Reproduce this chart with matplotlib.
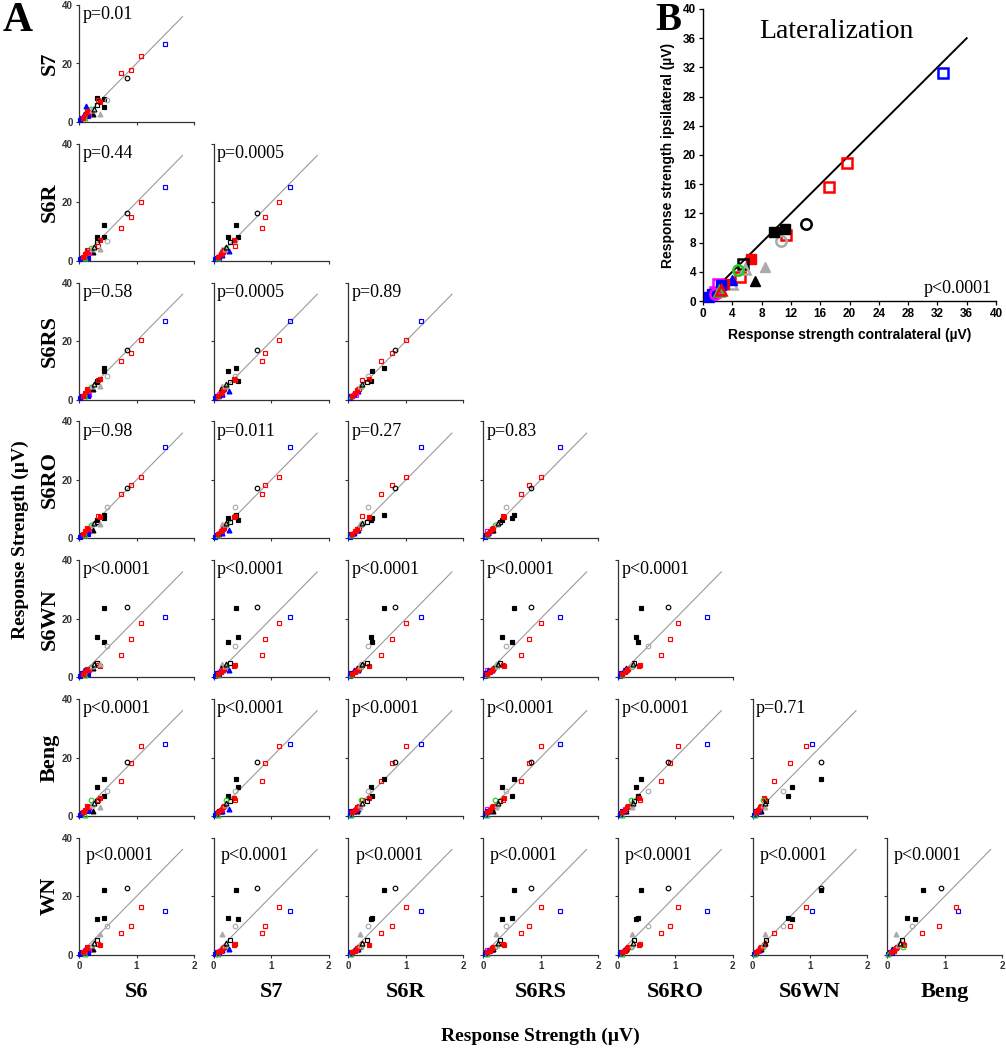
import matplotlib
matplotlib.use("Agg")
import matplotlib.pyplot as plt
import numpy as np

SERIF = ["Liberation Serif", "DejaVu Serif"]
SANS = ["Liberation Sans", "DejaVu Sans"]

# ---------------- Panel A data (response strength, uV) ----------------
stimuli = ["S6", "S7", "S6R", "S6RS", "S6RO", "S6WN", "Beng", "WN"]
# per-unit marker styles
unit_marker = ["s", "s", "s", "s", "o", "s", "s", "s", "o", "s", "s", "s", "o", "^", "^", "^",
               "s", "o", "s", "s", "s", "^", "s", "s", "s", "^", "^", "^", "s"]
unit_color = ["blue", "red", "red", "red", "black", "black", "black", "black", "#aaaaaa", "red", "black", "red", "#22cc22", "blue", "#aaaaaa", "black",
              "#ff00ff", "#ff00ff", "blue", "blue", "blue", "blue", "red", "red", "red", "#aaaaaa", "#22cc22", "black", "red"]
unit_filled = [False, False, False, False, False, True, True, True, False, True, False, False, False, True, True, True,
               False, False, True, True, True, True, True, True, False, False, False, False, True]
# values for each stimulus (one entry per unit)
S6 =   [29.8, 21.6, 18.0, 14.6, 16.8, 8.6, 8.6, 6.2, 9.8, 7.4, 6.2, 6.6, 4.2, 2.4, 7.2, 5.0,
        3.6, 2.2, 0.4, 1.0, 3.2, 1.6, 3.0, 2.0, 2.8, 4.6, 2.0, 5.2, 1.4]
S7 =   [26.7, 22.6, 17.7, 16.8, 15.1, 7.9, 5.1, 8.3, 7.4, 6.9, 5.7, 7.4, 4.3, 5.4, 2.9, 2.6,
        2.9, 1.9, 0.6, 1.2, 2.0, 2.8, 3.3, 2.4, 3.6, 4.0, 1.4, 4.3, 1.5]
S6R =  [25.4, 20.2, 15.1, 11.3, 16.3, 12.3, 8.1, 8.0, 6.8, 7.2, 6.4, 4.9, 4.4, 3.5, 4.0, 3.0,
        2.6, 1.8, 0.5, 1.0, 0.9, 2.0, 3.0, 2.2, 3.7, 4.2, 1.0, 4.6, 1.4]
S6RS = [26.9, 20.3, 16.0, 13.1, 16.8, 10.9, 9.9, 6.5, 8.0, 7.1, 5.9, 6.8, 4.3, 3.0, 4.5, 3.5,
        1.5, 2.0, 0.5, 1.1, 1.2, 1.8, 3.2, 2.3, 3.5, 4.8, 1.2, 5.2, 1.3]
S6RO = [31.1, 21.0, 18.1, 15.1, 17.4, 8.0, 6.9, 6.3, 10.6, 7.4, 5.6, 7.8, 4.6, 3.0, 5.0, 3.0,
        2.4, 2.0, 0.6, 1.2, 1.5, 2.0, 3.1, 2.4, 3.6, 5.0, 1.3, 5.4, 1.5]
S6WN = [20.6, 18.5, 12.9, 7.5, 24.0, 23.7, 12.2, 13.9, 10.5, 3.9, 4.8, 4.2, 3.5, 2.5, 4.5, 3.0,
        2.4, 1.8, 0.5, 1.3, 1.2, 2.4, 2.6, 1.9, 2.9, 3.8, 0.8, 4.4, 1.1]
Beng = [24.6, 24.1, 18.0, 12.1, 18.6, 12.5, 6.8, 9.8, 8.7, 6.0, 5.0, 5.5, 5.5, 2.5, 3.0, 1.8,
        2.4, 1.8, 0.4, 0.9, 1.6, 1.8, 3.0, 2.2, 3.4, 3.7, 0.2, 4.4, 1.2]
WN =   [15.1, 16.3, 9.8, 7.4, 22.9, 22.1, 12.7, 12.2, 9.9, 3.4, 5.0, 3.8, 2.6, 2.0, 7.2, 2.0,
        1.6, 1.2, 0.3, 0.8, 0.6, 1.5, 2.2, 1.4, 2.6, 3.4, 0.3, 4.2, 0.9]
stim_values = {"S6": S6, "S7": S7, "S6R": S6R, "S6RS": S6RS, "S6RO": S6RO,
               "S6WN": S6WN, "Beng": Beng, "WN": WN}

row_stimuli = ["S7", "S6R", "S6RS", "S6RO", "S6WN", "Beng", "WN"]
col_stimuli = ["S6", "S7", "S6R", "S6RS", "S6RO", "S6WN", "Beng"]
p_values = [
    ["p=0.01"],
    ["p=0.44", "p=0.0005"],
    ["p=0.58", "p=0.0005", "p=0.89"],
    ["p=0.98", "p=0.011", "p=0.27", "p=0.83"],
    ["p<0.0001"] * 5,
    ["p<0.0001"] * 5 + ["p=0.71"],
    ["p<0.0001"] * 7,
]
X_SCALE = 20.0  # x axis of panel A shown on 0-2 scale

# ---------------- Panel B data ----------------
b_contra = [32.8, 19.6, 17.2, 11.3, 5.1, 14.0, 10.6, 9.7, 11.2, 6.5, 8.4, 7.1, 5.4, 5.8, 3.9,
            4.8, 3.9, 2.9, 2.0, 1.7, 2.4, 0.8, 1.2, 1.6, 2.2, 2.4]
b_ipsi = [31.2, 18.9, 15.6, 9.0, 3.3, 10.6, 8.2, 9.5, 9.9, 5.7, 4.6, 2.7, 5.1, 4.4, 2.3,
          4.2, 2.9, 2.3, 2.3, 1.2, 2.2, 0.6, 1.0, 1.0, 1.4, 1.5]
b_marker = ["s", "s", "s", "s", "s", "o", "o", "s", "s", "s", "^", "^", "s", "^", "^",
            "o", "^", "s", "s", "s", "s", "s", "s", "o", "^", "^"]
b_color = ["blue", "red", "red", "red", "red", "black", "#aaaaaa", "black", "black", "red", "#aaaaaa", "black",
           "black", "#aaaaaa", "#aaaaaa", "#22cc22", "blue", "red", "#ff00ff", "#ff00ff", "blue", "blue", "blue",
           "#ff00ff", "#22cc22", "red"]
b_filled = [False, False, False, False, False, False, False, True, True, True, True, True,
            False, False, False, False, True, True, False, False, True, True, True, False, False, False]
b_ticks = [0, 4, 8, 12, 16, 20, 24, 28, 32, 36, 40]

# ---------------- Figure ----------------
W, H = 1006, 1050
fig = plt.figure(figsize=(W / 100, H / 100), dpi=100)


def rect(left, top, w, h):
    return [left / W, 1 - (top + h) / H, w / W, h / H]


col_left0, col_step, pw = 79, 134.7, 115
row_top0, row_step, ph = 5, 138.8, 117

for r, ystim in enumerate(row_stimuli):
    for c in range(r + 1):
        xstim = col_stimuli[c]
        ax = fig.add_axes(rect(col_left0 + c * col_step, row_top0 + r * row_step, pw, ph))
        xs = np.array(stim_values[xstim]) / X_SCALE
        ys = np.array(stim_values[ystim])
        ax.plot([0, 1.8], [0, 36], color="#9a9a9a", lw=0.8, zorder=1)
        for i in range(len(xs)):
            col = unit_color[i]
            ms = 3.3 if unit_marker[i] != "^" else 3.5
            ax.plot(xs[i], ys[i], linestyle="none", marker=unit_marker[i], ms=ms,
                    mec=col, mfc=col if unit_filled[i] else "none", mew=0.85, zorder=3,
                    clip_on=False)
        ax.set_xlim(0, 2)
        ax.set_ylim(0, 40)
        ax.set_xticks([0, 1, 2])
        ax.set_yticks([0, 20, 40])
        for s in ["top", "right"]:
            ax.spines[s].set_visible(False)
        for s in ["left", "bottom"]:
            ax.spines[s].set_linewidth(0.9)
            ax.spines[s].set_color("#333333")
        ax.tick_params(direction="out", length=2.5, width=0.8, pad=2, colors="#333333")
        if c == 0:
            ax.set_yticklabels(["0", "20", "40"], fontsize=7, fontweight="bold", family=SANS)
        else:
            ax.set_yticklabels([])
        if r == len(row_stimuli) - 1:
            ax.set_xticklabels(["0", "1", "2"], fontsize=7, fontweight="bold", family=SANS)
        else:
            ax.set_xticklabels([])
        ytxt = 0.99 if r < len(row_stimuli) - 1 else 0.92
        xtxt = 0.03 if r < len(row_stimuli) - 1 else 0.06
        ax.text(xtxt, ytxt, p_values[r][c], transform=ax.transAxes, ha="left", va="top",
                fontsize=13, family=SERIF)

# row labels
for r, ystim in enumerate(row_stimuli):
    yc = row_top0 + r * row_step + ph / 2
    fig.text(50 / W, 1 - yc / H, ystim, rotation=90, ha="center", va="center",
             fontsize=16, fontweight="bold", family=SERIF)
# column labels
for c, xstim in enumerate(col_stimuli):
    xc = col_left0 + c * col_step + pw / 2
    fig.text(xc / W, 1 - 992 / H, xstim, ha="center", va="center",
             fontsize=16, fontweight="bold", family=SERIF)

fig.text(20 / W, 1 - 540 / H, "Response Strength (\u00b5V)", rotation=90, ha="center", va="center",
         fontsize=14, fontweight="bold", family=SERIF)
fig.text(540 / W, 1 - 1036 / H, "Response Strength (\u00b5V)", ha="center", va="center",
         fontsize=14, fontweight="bold", family=SERIF)

fig.text(3 / W, 1 - 2 / H, "A", ha="left", va="top", fontsize=30, fontweight="bold", family=SERIF)
fig.text(655 / W, 1 - 2 / H, "B", ha="left", va="top", fontsize=28, fontweight="bold", family=SERIF)

# ---------------- Panel B ----------------
axb = fig.add_axes(rect(703, 9, 293, 292))
axb.plot([0, 36], [0, 36], color="black", lw=1.4, zorder=1)
for i in range(len(b_contra)):
    col = b_color[i]
    mk = b_marker[i]
    ms = 7 if mk == "s" else (7.5 if mk == "o" else 7)
    axb.plot(b_contra[i], b_ipsi[i], linestyle="none", marker=mk, ms=ms, mec=col,
             mfc=col if b_filled[i] else "none", mew=1.8 if not b_filled[i] else 1.0, zorder=3,
             clip_on=False)
axb.set_xlim(0, 40)
axb.set_ylim(0, 40)
axb.set_xticks(b_ticks)
axb.set_yticks(b_ticks)
axb.set_xticklabels([str(t) for t in b_ticks], fontsize=8.5, fontweight="bold", family=SANS)
axb.set_yticklabels([str(t) for t in b_ticks], fontsize=8.5, fontweight="bold", family=SANS)
for s in ["top", "right"]:
    axb.spines[s].set_visible(False)
for s in ["left", "bottom"]:
    axb.spines[s].set_linewidth(1.0)
axb.tick_params(direction="out", length=3, width=0.9, pad=2)
axb.set_xlabel("Response strength contralateral (\u00b5V)", fontsize=10, fontweight="bold",
               family=SANS, labelpad=6)
axb.set_ylabel("Response strength ipsilateral (\u00b5V)", fontsize=10, fontweight="bold",
               family=SANS, labelpad=6)
axb.text(0.455, 0.965, "Lateralization", transform=axb.transAxes, ha="center", va="top",
         fontsize=20, family=SERIF)
axb.text(0.985, 0.015, "p<0.0001", transform=axb.transAxes, ha="right", va="bottom",
         fontsize=13, family=SERIF)

fig.savefig("out.png", dpi=100)
